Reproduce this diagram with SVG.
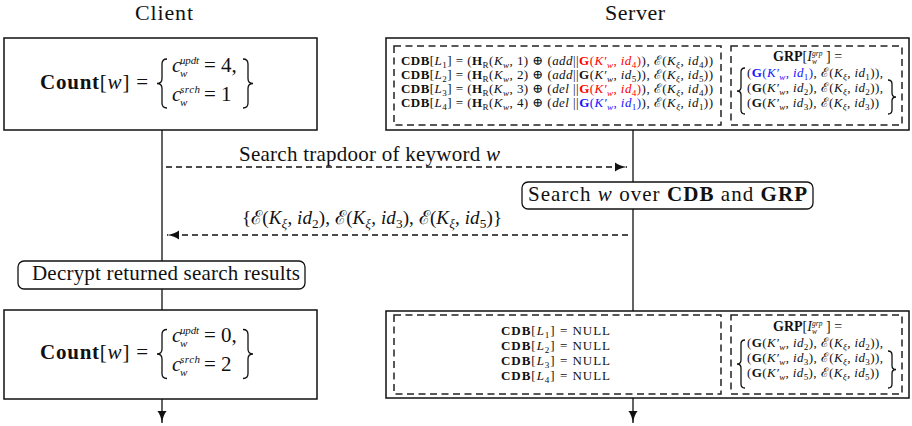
<svg xmlns="http://www.w3.org/2000/svg" width="912" height="426" viewBox="0 0 912 426">
  <style>
    .t { font-family: "Liberation Serif", "DejaVu Serif", serif; fill: #111; }
    .b { font-weight: bold; }
    .i { font-style: italic; }
    .s { font-size: 70%; }
    .box { fill: #fff; stroke: #111; stroke-width: 1.5; }
    .dbox { fill: none; stroke: #222; stroke-width: 1.5; stroke-dasharray: 7 4.5; }
    .rbox { fill: #fff; stroke: #111; stroke-width: 1.3; }
    .life { fill: none; stroke: #111; stroke-width: 1.3; }
    .msg { fill: none; stroke: #111; stroke-width: 1.3; stroke-dasharray: 6 4; }
    .brace { fill: none; stroke: #111; stroke-width: 1.3; }
    .red { fill: #f00; }
    .blue { fill: #1515ff; }
    .title { font-size: 22px; }
    .mid { font-size: 21px; }
    .cnt { font-size: 21px; }
    .sm { font-size: 13px; }
    .hd { font-size: 14px; }
    .tiny { font-size: 11px; }
    .micro { font-size: 7.5px; }
  </style>
  <defs>
    <marker id="arrow" markerUnits="userSpaceOnUse" markerWidth="13" markerHeight="11" viewBox="0 -5.5 12 11" refX="12" refY="0" orient="auto">
      <path d="M0,-4.6 C3,-2.4 6.5,-0.8 12,0 C6.5,0.8 3,2.4 0,4.6 Z" fill="#111" stroke="none"/>
    </marker>
  </defs>

  <!-- column headings -->
  <g id="client-title">
    <text class="t title" x="135" y="20" textLength="58">Client</text>
  </g>
  <g id="server-title">
    <text class="t title" x="605" y="20" textLength="60">Server</text>
  </g>

  <!-- lifelines and messages -->
  <g id="connectors">
    <path class="life" d="M162,130 V261 M162,289 V310"/>
    <path class="life" d="M162,399 V423" marker-end="url(#arrow)"/>
    <path class="life" d="M633,130 V182 M633,209 V311"/>
    <path class="life" d="M633,398 V423" marker-end="url(#arrow)"/>
    <path class="msg" d="M166,167 H627" marker-end="url(#arrow)"/>
    <path class="msg" d="M628,235 H167" marker-end="url(#arrow)"/>
    <text class="t mid" x="239" y="161" textLength="261">Search trapdoor of keyword <tspan class="i">w</tspan></text>
    <text class="t" font-size="19" x="242" y="224" textLength="260">{ℰ(<tspan class="i">K</tspan><tspan class="s i" dy="4">ξ</tspan><tspan dy="-4">, </tspan><tspan class="i">id</tspan><tspan class="s" dy="4">2</tspan><tspan dy="-4">),  ℰ(</tspan><tspan class="i">K</tspan><tspan class="s i" dy="4">ξ</tspan><tspan dy="-4">, </tspan><tspan class="i">id</tspan><tspan class="s" dy="4">3</tspan><tspan dy="-4">),  ℰ(</tspan><tspan class="i">K</tspan><tspan class="s i" dy="4">ξ</tspan><tspan dy="-4">, </tspan><tspan class="i">id</tspan><tspan class="s" dy="4">5</tspan><tspan dy="-4">)}</tspan></text>
  </g>

  <!-- client state before search -->
  <g id="client-count-before">
    <rect class="box" x="4" y="38" width="313" height="92"/>
    <text class="t cnt" x="40" y="89" textLength="108"><tspan class="b">Count</tspan>[<tspan class="i">w</tspan>] =</text>
    <path class="brace" d="M167,59 Q162,59 162,64 V78.5 Q162,83.5 157,83.5 Q162,83.5 162,88.5 V103 Q162,108 167,108"/>
    <text class="t cnt i" x="172" y="72">c</text>
    <text class="t tiny i" x="180" y="64" textLength="19">updt</text>
    <text class="t tiny i" x="180" y="77">w</text>
    <text class="t cnt" x="204" y="72">= 4,</text>
    <text class="t cnt i" x="172" y="101">c</text>
    <text class="t tiny i" x="180" y="93" textLength="20">srch</text>
    <text class="t tiny i" x="180" y="106">w</text>
    <text class="t cnt" x="204" y="101">= 1</text>
    <path class="brace" d="M243,59 Q248,59 248,64 V78.5 Q248,83.5 253,83.5 Q248,83.5 248,88.5 V103 Q248,108 243,108"/>
  </g>

  <!-- server state before search -->
  <g id="server-state-before">
    <rect class="box" x="386" y="38" width="523" height="92"/>
    <rect class="dbox" x="394" y="46" width="327" height="79"/>
    <rect class="dbox" x="731" y="46" width="171" height="79"/>
    <text class="t sm" x="401" y="64.5" textLength="312"><tspan class="b">CDB</tspan>[<tspan class="i">L</tspan><tspan class="s" dy="3">1</tspan><tspan dy="-3">] = (</tspan><tspan class="b">H</tspan><tspan class="s" dy="3">R</tspan><tspan dy="-3">(</tspan><tspan class="i">K</tspan><tspan class="s i" dy="3">w</tspan><tspan dy="-3">, 1) ⊕ (</tspan><tspan class="i">add</tspan>||<tspan class="red b">G</tspan><tspan class="red">(</tspan><tspan class="red i">K′</tspan><tspan class="red s i" dy="3">w</tspan><tspan class="red" dy="-3">, </tspan><tspan class="red i">id</tspan><tspan class="red s" dy="3">4</tspan><tspan class="red" dy="-3">)</tspan>), ℰ(<tspan class="i">K</tspan><tspan class="s i" dy="3">ξ</tspan><tspan dy="-3">, </tspan><tspan class="i">id</tspan><tspan class="s" dy="3">4</tspan><tspan dy="-3">))</tspan></text>
    <text class="t sm" x="401" y="78.5" textLength="312"><tspan class="b">CDB</tspan>[<tspan class="i">L</tspan><tspan class="s" dy="3">2</tspan><tspan dy="-3">] = (</tspan><tspan class="b">H</tspan><tspan class="s" dy="3">R</tspan><tspan dy="-3">(</tspan><tspan class="i">K</tspan><tspan class="s i" dy="3">w</tspan><tspan dy="-3">, 2) ⊕ (</tspan><tspan class="i">add</tspan>||<tspan class="b">G</tspan>(<tspan class="i">K′</tspan><tspan class="s i" dy="3">w</tspan><tspan dy="-3">, </tspan><tspan class="i">id</tspan><tspan class="s" dy="3">5</tspan><tspan dy="-3">)), ℰ(</tspan><tspan class="i">K</tspan><tspan class="s i" dy="3">ξ</tspan><tspan dy="-3">, </tspan><tspan class="i">id</tspan><tspan class="s" dy="3">5</tspan><tspan dy="-3">))</tspan></text>
    <text class="t sm" x="401" y="92.5" textLength="312"><tspan class="b">CDB</tspan>[<tspan class="i">L</tspan><tspan class="s" dy="3">3</tspan><tspan dy="-3">] = (</tspan><tspan class="b">H</tspan><tspan class="s" dy="3">R</tspan><tspan dy="-3">(</tspan><tspan class="i">K</tspan><tspan class="s i" dy="3">w</tspan><tspan dy="-3">, 3) ⊕ (</tspan><tspan class="i">del</tspan> ||<tspan class="red b">G</tspan><tspan class="red">(</tspan><tspan class="red i">K′</tspan><tspan class="red s i" dy="3">w</tspan><tspan class="red" dy="-3">, </tspan><tspan class="red i">id</tspan><tspan class="red s" dy="3">4</tspan><tspan class="red" dy="-3">)</tspan>), ℰ(<tspan class="i">K</tspan><tspan class="s i" dy="3">ξ</tspan><tspan dy="-3">, </tspan><tspan class="i">id</tspan><tspan class="s" dy="3">4</tspan><tspan dy="-3">))</tspan></text>
    <text class="t sm" x="401" y="106.5" textLength="312"><tspan class="b">CDB</tspan>[<tspan class="i">L</tspan><tspan class="s" dy="3">4</tspan><tspan dy="-3">] = (</tspan><tspan class="b">H</tspan><tspan class="s" dy="3">R</tspan><tspan dy="-3">(</tspan><tspan class="i">K</tspan><tspan class="s i" dy="3">w</tspan><tspan dy="-3">, 4) ⊕ (</tspan><tspan class="i">del</tspan> ||<tspan class="blue b">G</tspan><tspan class="blue">(</tspan><tspan class="blue i">K′</tspan><tspan class="blue s i" dy="3">w</tspan><tspan class="blue" dy="-3">, </tspan><tspan class="blue i">id</tspan><tspan class="blue s" dy="3">1</tspan><tspan class="blue" dy="-3">)</tspan>), ℰ(<tspan class="i">K</tspan><tspan class="s i" dy="3">ξ</tspan><tspan dy="-3">, </tspan><tspan class="i">id</tspan><tspan class="s" dy="3">1</tspan><tspan dy="-3">))</tspan></text>

    <!-- GRP heading with stacked index scripts -->
    <text class="t hd" x="773" y="61"><tspan class="b">GRP</tspan>[<tspan class="i">I</tspan></text>
    <text class="t micro i" x="812" y="55.5">grp</text>
    <text class="t micro i" x="812" y="63.5">w</text>
    <text class="t hd" x="826" y="61">] =</text>
    <path class="brace" d="M745,68 Q741,68 741,72 V87 Q741,91 737,91 Q741,91 741,95 V110 Q741,114 745,114"/>
    <text class="t sm" x="747" y="77" textLength="136">(<tspan class="blue b">G</tspan><tspan class="blue">(</tspan><tspan class="blue i">K′</tspan><tspan class="blue s i" dy="3">w</tspan><tspan class="blue" dy="-3">, </tspan><tspan class="blue i">id</tspan><tspan class="blue s" dy="3">1</tspan><tspan class="blue" dy="-3">)</tspan>, ℰ(<tspan class="i">K</tspan><tspan class="s i" dy="3">ξ</tspan><tspan dy="-3">, </tspan><tspan class="i">id</tspan><tspan class="s" dy="3">1</tspan><tspan dy="-3">)),</tspan></text>
    <text class="t sm" x="747" y="92" textLength="136">(<tspan class="b">G</tspan>(<tspan class="i">K′</tspan><tspan class="s i" dy="3">w</tspan><tspan dy="-3">, </tspan><tspan class="i">id</tspan><tspan class="s" dy="3">2</tspan><tspan dy="-3">), ℰ(</tspan><tspan class="i">K</tspan><tspan class="s i" dy="3">ξ</tspan><tspan dy="-3">, </tspan><tspan class="i">id</tspan><tspan class="s" dy="3">2</tspan><tspan dy="-3">)),</tspan></text>
    <text class="t sm" x="747" y="107" textLength="132">(<tspan class="b">G</tspan>(<tspan class="i">K′</tspan><tspan class="s i" dy="3">w</tspan><tspan dy="-3">, </tspan><tspan class="i">id</tspan><tspan class="s" dy="3">3</tspan><tspan dy="-3">), ℰ(</tspan><tspan class="i">K</tspan><tspan class="s i" dy="3">ξ</tspan><tspan dy="-3">, </tspan><tspan class="i">id</tspan><tspan class="s" dy="3">3</tspan><tspan dy="-3">))</tspan></text>
    <path class="brace" d="M888,80 Q892,80 892,84 V93 Q892,97 896,97 Q892,97 892,101 V110 Q892,114 888,114"/>
  </g>

  <!-- server-side search step -->
  <g id="search-step">
    <rect class="rbox" x="522" y="182" width="291" height="27" rx="6"/>
    <text class="t mid" x="528" y="201" textLength="279">Search <tspan class="i">w</tspan> over <tspan class="b">CDB</tspan> and <tspan class="b">GRP</tspan></text>
  </g>

  <!-- client-side decryption step -->
  <g id="decrypt-step">
    <rect class="rbox" x="18" y="261" width="287" height="28" rx="6"/>
    <text class="t mid" x="32" y="280" textLength="268">Decrypt returned search results</text>
  </g>

  <!-- client state after search -->
  <g id="client-count-after">
    <rect class="box" x="4" y="310" width="313" height="89"/>
    <text class="t cnt" x="40" y="359" textLength="108"><tspan class="b">Count</tspan>[<tspan class="i">w</tspan>] =</text>
    <path class="brace" d="M167,329.5 Q162,329.5 162,334.5 V349 Q162,354 157,354 Q162,354 162,359 V373.5 Q162,378.5 167,378.5"/>
    <text class="t cnt i" x="172" y="342">c</text>
    <text class="t tiny i" x="180" y="334" textLength="19">updt</text>
    <text class="t tiny i" x="180" y="347">w</text>
    <text class="t cnt" x="204" y="342">= 0,</text>
    <text class="t cnt i" x="172" y="371">c</text>
    <text class="t tiny i" x="180" y="363" textLength="20">srch</text>
    <text class="t tiny i" x="180" y="376">w</text>
    <text class="t cnt" x="204" y="371">= 2</text>
    <path class="brace" d="M243,329.5 Q248,329.5 248,334.5 V349 Q248,354 253,354 Q248,354 248,359 V373.5 Q248,378.5 243,378.5"/>
  </g>

  <!-- server state after search -->
  <g id="server-state-after">
    <rect class="box" x="386" y="311" width="523" height="87"/>
    <rect class="dbox" x="394" y="315" width="327" height="79"/>
    <rect class="dbox" x="731" y="315" width="171" height="79"/>
    <text class="t sm" x="501" y="335" textLength="109"><tspan class="b">CDB</tspan>[<tspan class="i">L</tspan><tspan class="s" dy="3">1</tspan><tspan dy="-3">] = NULL</tspan></text>
    <text class="t sm" x="501" y="350" textLength="109"><tspan class="b">CDB</tspan>[<tspan class="i">L</tspan><tspan class="s" dy="3">2</tspan><tspan dy="-3">] = NULL</tspan></text>
    <text class="t sm" x="501" y="365" textLength="109"><tspan class="b">CDB</tspan>[<tspan class="i">L</tspan><tspan class="s" dy="3">3</tspan><tspan dy="-3">] = NULL</tspan></text>
    <text class="t sm" x="501" y="380" textLength="109"><tspan class="b">CDB</tspan>[<tspan class="i">L</tspan><tspan class="s" dy="3">4</tspan><tspan dy="-3">] = NULL</tspan></text>

    <!-- GRP heading with stacked index scripts -->
    <text class="t hd" x="773" y="331"><tspan class="b">GRP</tspan>[<tspan class="i">I</tspan></text>
    <text class="t micro i" x="812" y="325.5">grp</text>
    <text class="t micro i" x="812" y="333.5">w</text>
    <text class="t hd" x="826" y="331">] =</text>
    <path class="brace" d="M745,340 Q741,340 741,344 V360 Q741,364 737,364 Q741,364 741,368 V384 Q741,388 745,388"/>
    <text class="t sm" x="747" y="347" textLength="136">(<tspan class="b">G</tspan>(<tspan class="i">K′</tspan><tspan class="s i" dy="3">w</tspan><tspan dy="-3">, </tspan><tspan class="i">id</tspan><tspan class="s" dy="3">2</tspan><tspan dy="-3">), ℰ(</tspan><tspan class="i">K</tspan><tspan class="s i" dy="3">ξ</tspan><tspan dy="-3">, </tspan><tspan class="i">id</tspan><tspan class="s" dy="3">2</tspan><tspan dy="-3">)),</tspan></text>
    <text class="t sm" x="747" y="362" textLength="136">(<tspan class="b">G</tspan>(<tspan class="i">K′</tspan><tspan class="s i" dy="3">w</tspan><tspan dy="-3">, </tspan><tspan class="i">id</tspan><tspan class="s" dy="3">3</tspan><tspan dy="-3">), ℰ(</tspan><tspan class="i">K</tspan><tspan class="s i" dy="3">ξ</tspan><tspan dy="-3">, </tspan><tspan class="i">id</tspan><tspan class="s" dy="3">3</tspan><tspan dy="-3">)),</tspan></text>
    <text class="t sm" x="747" y="377" textLength="132">(<tspan class="b">G</tspan>(<tspan class="i">K′</tspan><tspan class="s i" dy="3">w</tspan><tspan dy="-3">, </tspan><tspan class="i">id</tspan><tspan class="s" dy="3">5</tspan><tspan dy="-3">), ℰ(</tspan><tspan class="i">K</tspan><tspan class="s i" dy="3">ξ</tspan><tspan dy="-3">, </tspan><tspan class="i">id</tspan><tspan class="s" dy="3">5</tspan><tspan dy="-3">))</tspan></text>
    <path class="brace" d="M888,351 Q892,351 892,355 V365.5 Q892,369.5 896,369.5 Q892,369.5 892,373.5 V384 Q892,388 888,388"/>
  </g>
</svg>
